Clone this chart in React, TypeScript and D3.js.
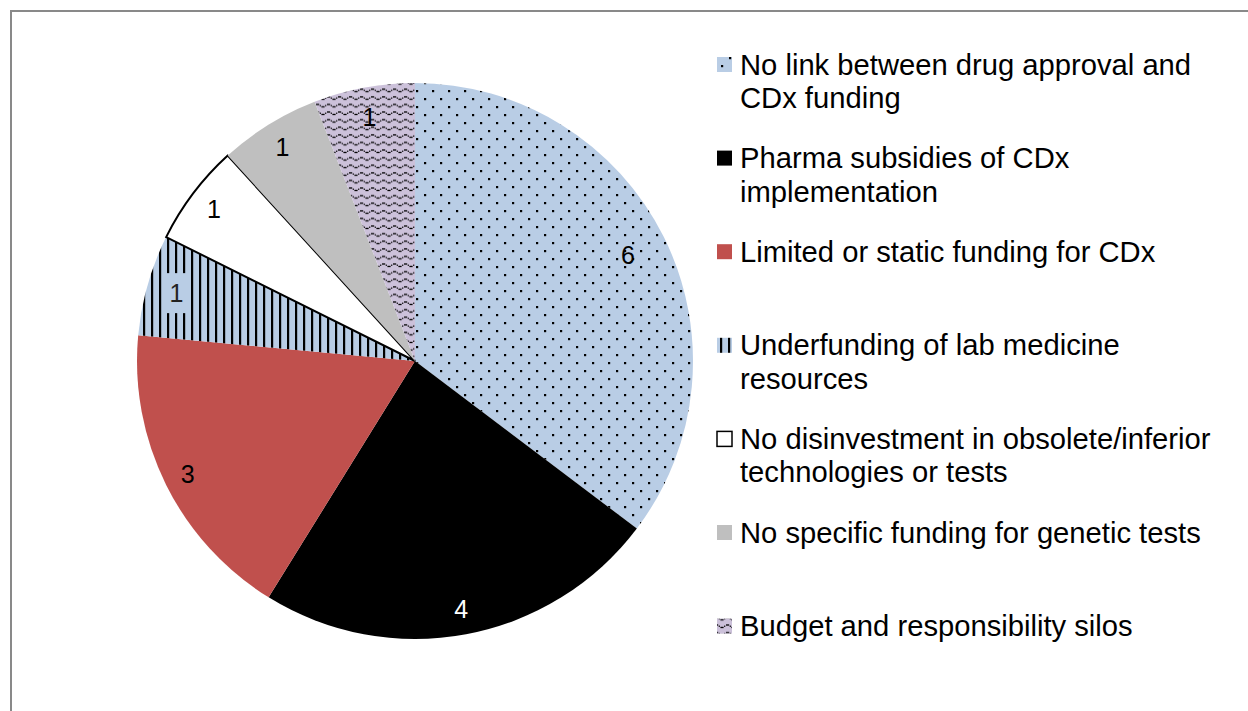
import React from "react";
import * as d3 from "d3";

const categories = [
  "No link between drug approval and CDx funding",
  "Pharma subsidies of CDx implementation",
  "Limited or static funding for CDx",
  "Underfunding of lab medicine resources",
  "No disinvestment in obsolete/inferior technologies or tests",
  "No specific funding for genetic tests",
  "Budget and responsibility silos",
];
const legendLines = [
  ["No link between drug approval and", "CDx funding"],
  ["Pharma subsidies of CDx", "implementation"],
  ["Limited or static funding for CDx"],
  ["Underfunding of lab medicine", "resources"],
  ["No disinvestment in obsolete/inferior", "technologies or tests"],
  ["No specific funding for genetic tests"],
  ["Budget and responsibility silos"],
];
const values = [6, 4, 3, 1, 1, 1, 1];

const fills = [
  "url(#pDots)",
  "#000000",
  "#c0504d",
  "url(#pVert)",
  "#ffffff",
  "#bfbfbf",
  "url(#pWave)",
];
const labelColors = ["#000", "#fff", "#000", "#222", "#000", "#000", "#000"];
const labelRadius = [238, 252, 254, 248, 252, 252, 248];

export default function App() {
  const cx = 415;
  const cy = 361;
  const r = 278;
  const pie = d3.pie<number>().sort(null).value((d) => d)(values);
  const arc = d3.arc<d3.PieArcDatum<number>>().innerRadius(0).outerRadius(r);
  const font = "Arial, 'Liberation Sans', sans-serif";
  const legendX = 717;
  const legendY0 = 64.5;
  const legendStep = 93.6;
  const lineH = 33.5;

  return (
    <svg
      width={1248}
      height={711}
      style={{ position: "absolute", left: 0, top: 0 }}
      fontFamily={font}
    >
      <defs>
        <pattern id="pDots" patternUnits="userSpaceOnUse" width={16} height={16}>
          <rect width={16} height={16} fill="#b9cde5" />
          <rect x={1} y={1} width={2.2} height={2.2} fill="#000" />
          <rect x={9} y={9} width={2.2} height={2.2} fill="#000" />
        </pattern>
        <pattern id="pVert" patternUnits="userSpaceOnUse" width={8} height={8}>
          <rect width={8} height={8} fill="#b9cde5" />
          <rect x={0} y={0} width={2.2} height={8} fill="#000" />
        </pattern>
        <pattern id="pWave" patternUnits="userSpaceOnUse" width={11} height={7.6}>
          <rect width={11} height={7.6} fill="#ccc1da" />
          <g fill="#000">
            <rect x={0} y={1.2} width={3.2} height={1.3} />
            <rect x={3.7} y={2.4} width={1.2} height={1.3} />
            <rect x={5.4} y={3.6} width={3.2} height={1.3} />
            <rect x={9.1} y={2.4} width={1.2} height={1.3} />
          </g>
        </pattern>
      </defs>
      <rect x={0} y={0} width={1248} height={711} fill="#fff" />
      <rect x={11} y={11} width={1400} height={900} fill="none" stroke="#898989" strokeWidth={2} />

      <g transform={`translate(${cx},${cy})`}>
        {pie.map((d, i) => (
          <path
            key={i}
            d={arc(d) || ""}
            fill={fills[i]}
            stroke={i === 4 ? "#000" : "none"}
            strokeWidth={i === 4 ? 2 : 0}
          />
        ))}
        {pie.map((d, i) => {
          const la = d3.arc<d3.PieArcDatum<number>>().innerRadius(labelRadius[i]).outerRadius(labelRadius[i]);
          const [lx, ly] = la.centroid(d);
          return (
            <g key={"l" + i}>
              {i === 3 && (
                <rect x={lx - 14} y={ly - 20} width={28} height={40} fill="#b9cde5" />
              )}
              <text
                x={lx}
                y={ly}
                textAnchor="middle"
                dominantBaseline="central"
                fontSize={25}
                fill={labelColors[i]}
              >
                {values[i]}
              </text>
            </g>
          );
        })}
      </g>

      <g>
        {categories.map((c, i) => {
          const y = legendY0 + i * legendStep;
          return (
            <g key={c}>
              <rect
                x={legendX}
                y={y - 7.5}
                width={15}
                height={15}
                fill={fills[i]}
                stroke={i === 4 ? "#000" : "none"}
                strokeWidth={i === 4 ? 1.5 : 0}
              />
              {legendLines[i].map((t, j) => (
                <text
                  key={j}
                  x={740}
                  y={y + j * lineH}
                  dominantBaseline="central"
                  fontSize={29.2}
                  fill="#000"
                >
                  {t}
                </text>
              ))}
            </g>
          );
        })}
      </g>
    </svg>
  );
}
